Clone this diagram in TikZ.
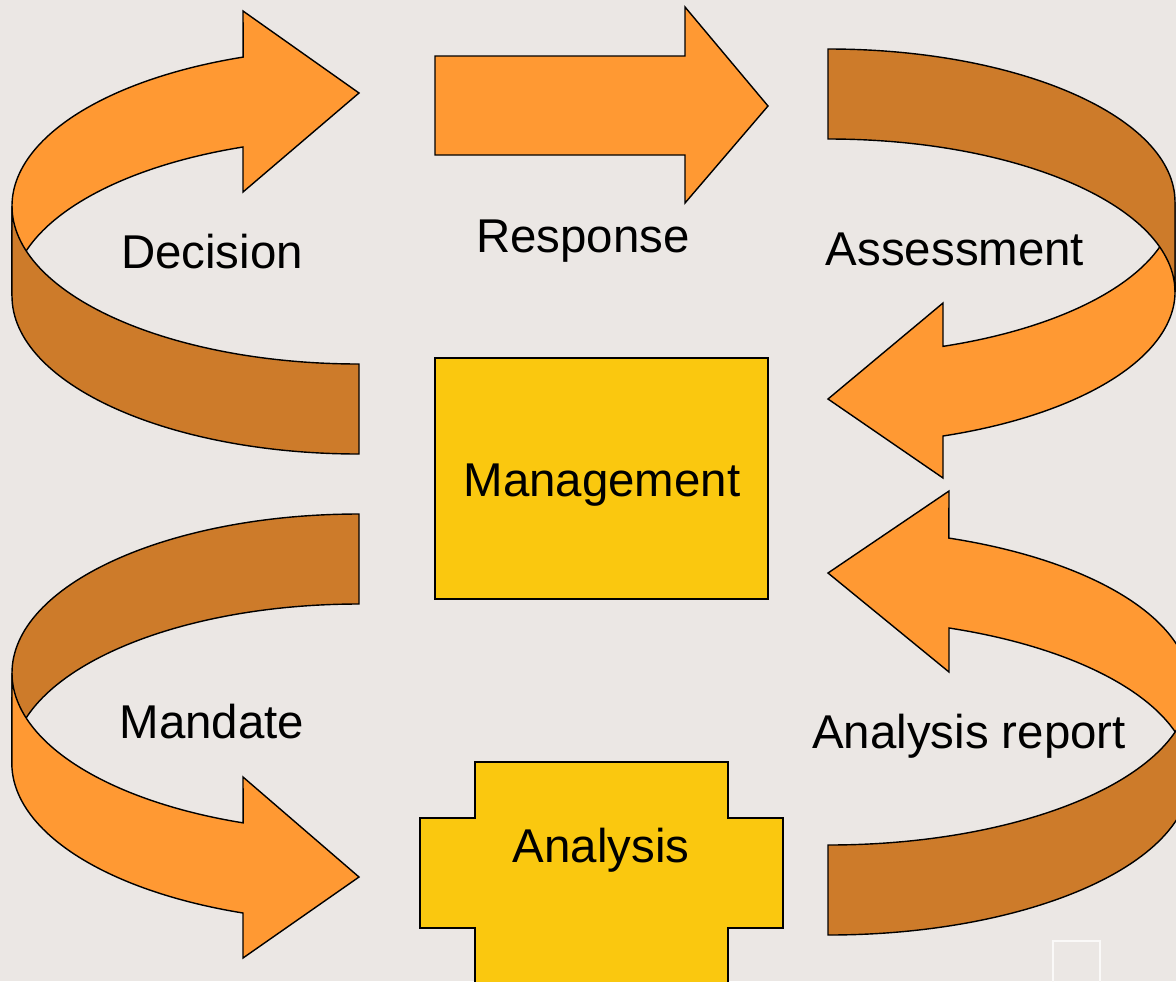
\documentclass[tikz,border=0pt]{standalone}
\usepackage{fontspec}
\setmainfont{Liberation Sans}

\definecolor{bgcol}{RGB}{235,231,228}
\definecolor{litorange}{RGB}{255,153,51}
\definecolor{drkorange}{RGB}{205,123,42}
\definecolor{boxyellow}{RGB}{250,200,15}

\begin{document}
\begin{tikzpicture}[x=0.02cm, y=-0.02cm,
  lit/.style={fill=litorange, draw=black, line width=0.8pt},
  drk/.style={fill=drkorange, draw=black, line width=0.8pt},
  yel/.style={fill=boxyellow, draw=black, line width=0.8pt},
  lbl/.style={anchor=base, inner sep=0pt, font=\fontsize{27}{32}\selectfont}]

\useasboundingbox (0,0) rectangle (1176,981);
\clip (0,0) rectangle (1176,981);
\fill [bgcol] (0,0) rectangle (1176,981);

% decision (top left)
\draw [lit] (12,206) arc[start angle=180, end angle=250.5, x radius=347, y radius=158]
  -- (243,11) -- (359,93) -- (243,192) -- (243,147)
  arc[start angle=250.5, end angle=180, x radius=347, y radius=158] -- cycle;
\draw [drk] (12,206) arc[start angle=180, end angle=90, x radius=347, y radius=158]
  -- (359,454) arc[start angle=90, end angle=180, x radius=347, y radius=158] -- cycle;

% response
\draw [lit] (435,56) -- (685,56) -- (685,7) -- (768,106) -- (685,203) -- (685,155) -- (435,155) -- cycle;

% assessment (top right)
\draw [lit] (1175,202) arc[start angle=0, end angle=70.65, x radius=347, y radius=153]
  -- (943,303) -- (828,399) -- (943,478) -- (943,436)
  arc[start angle=70.65, end angle=0, x radius=347, y radius=153] -- cycle;
\draw [drk] (828,49) arc[start angle=270, end angle=360, x radius=347, y radius=153]
  -- (1175,292) arc[start angle=0, end angle=-90, x radius=347, y radius=153] -- cycle;

% mandate (bottom left)
\draw [drk] (12,673) arc[start angle=180, end angle=270, x radius=347, y radius=159]
  -- (359,604) arc[start angle=270, end angle=180, x radius=347, y radius=159] -- cycle;
\draw [lit] (12,673) arc[start angle=180, end angle=109.5, x radius=347, y radius=159]
  -- (243,777) -- (359,877) -- (243,958) -- (243,913)
  arc[start angle=109.5, end angle=180, x radius=347, y radius=159] -- cycle;

% analysis report (bottom right)
\draw [lit] (1190,687) arc[start angle=360, end angle=289.5, x radius=362, y radius=158]
  -- (949,491) -- (828,573) -- (949,672) -- (949,628)
  arc[start angle=289.5, end angle=360, x radius=362, y radius=158] -- cycle;
\draw [drk] (1190,687) arc[start angle=0, end angle=90, x radius=362, y radius=158]
  -- (828,935) arc[start angle=90, end angle=0, x radius=362, y radius=158] -- cycle;

% boxes
\draw [yel] (435,358) rectangle (768,599);
\draw [yel] (475,762) -- (728,762) -- (728,818) -- (783,818) -- (783,928) -- (728,928)
  -- (728,990) -- (475,990) -- (475,928) -- (420,928) -- (420,818) -- (475,818) -- cycle;

\draw [white!75!bgcol, line width=1.4pt] (1053,990) -- (1053,941) -- (1100,941) -- (1100,990);

\foreach \name/\x/\y/\txt in {decision/212/268/Decision, response/583/252/Response,
  assessment/955/265/Assessment, mgmt/602/496/Management, mandate/212/738/Mandate,
  report/969/748/Analysis report, analysis/601/862/Analysis}
{
  \node [lbl] (\name) at (\x,\y) {\txt};
}
\end{tikzpicture}
\end{document}
